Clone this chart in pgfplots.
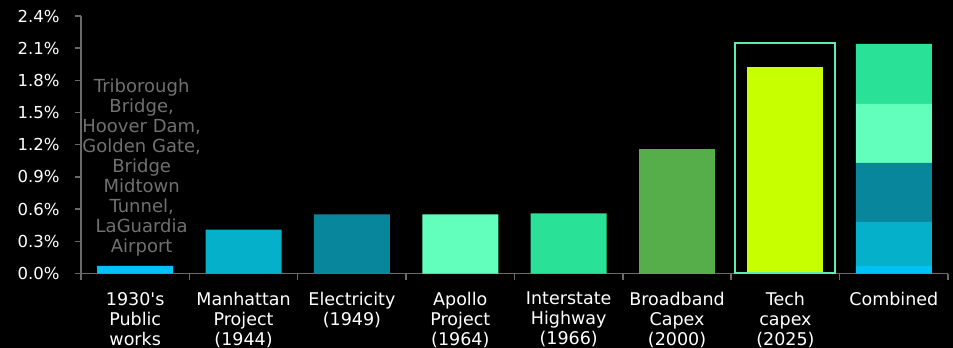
\documentclass[border=0pt]{standalone}
\usepackage{pgfplots}
\pgfplotsset{compat=1.18}
\usepackage{fontspec}
\setmainfont{DejaVu Sans}

\definecolor{cPub}{HTML}{00C2F5}
\definecolor{cMan}{HTML}{05B0CB}
\definecolor{cEle}{HTML}{08869B}
\definecolor{cApo}{HTML}{62FFBC}
\definecolor{cInt}{HTML}{2AE297}
\definecolor{cBro}{HTML}{56AE4B}
\definecolor{cTec}{HTML}{C8FF00}
\definecolor{cBox}{HTML}{5CECB0}
\definecolor{axgray}{HTML}{6A6A6A}
\definecolor{notegray}{HTML}{707070}

\pgfplotsset{
  base/.style={
    scale only axis, width=867bp, height=257.5bp,
    xmin=-0.5, xmax=7.5, ymin=0, ymax=2.4,
    at={(81bp,74.5bp)}, anchor=south west,
  }
}

\begin{document}
\begin{tikzpicture}
\fill[black] (0,0) rectangle (953bp,348bp);
\begin{axis}[base,
  ybar stacked, bar width=76bp,
  axis x line*=bottom, axis y line*=left,
  axis line style={axgray, line width=1.5bp},
  tick align=outside, major tick length=6bp,
  tick style={axgray, line width=1.5bp},
  /pgf/number format/assume math mode=true,
  ytick={0,0.3,0.6,0.9,1.2,1.5,1.8,2.1,2.4},
  yticklabel={\pgfmathprintnumber[fixed,fixed zerofill,precision=1]{\tick}\%},
  y tick label style={font=\fontsize{16.5bp}{18bp}\selectfont, text=white, xshift=-12bp},
  xtick={-0.5,0.5,1.5,2.5,3.5,4.5,5.5,6.5,7.5},
  x tick label as interval,
  xticklabels={1930\textquotesingle s\\Public\\works, Manhattan\\Project\\(1944), Electricity\\(1949), Apollo\\Project\\(1964), Interstate\\Highway\\(1966), Broadband\\Capex\\(2000), Tech\\capex\\(2025), Combined},
  x tick label style={font=\fontsize{17.5bp}{20bp}\selectfont, text=white, align=center, anchor=north, yshift=-9bp},
]
% 1930's public works
\addplot[fill=cPub, draw=none] coordinates {(0,0.07) (1,0) (2,0) (3,0) (4,0) (5,0) (6,0) (7,0.07)};
% Manhattan Project
\addplot[fill=cMan, draw=none] coordinates {(0,0) (1,0.41) (2,0) (3,0) (4,0) (5,0) (6,0) (7,0.41)};
% Electricity
\addplot[fill=cEle, draw=none] coordinates {(0,0) (1,0) (2,0.55) (3,0) (4,0) (5,0) (6,0) (7,0.55)};
% Apollo
\addplot[fill=cApo, draw=none] coordinates {(0,0) (1,0) (2,0) (3,0.55) (4,0) (5,0) (6,0) (7,0.55)};
% Interstate
\addplot[fill=cInt, draw=none] coordinates {(0,0) (1,0) (2,0) (3,0) (4,0.56) (5,0) (6,0) (7,0.56)};
% Broadband
\addplot[fill=cBro, draw=none] coordinates {(0,0) (1,0) (2,0) (3,0) (4,0) (5,1.16) (6,0) (7,0)};
% Tech capex
\addplot[fill=cTec, draw=none] coordinates {(0,0) (1,0) (2,0) (3,0) (4,0) (5,0) (6,1.92) (7,0)};

\node[align=center, text=notegray, font=\fontsize{18bp}{20bp}\selectfont, anchor=north, inner sep=0pt]
  at (axis cs:0.06,1.82) {Triborough\\Bridge,\\Hoover Dam,\\Golden Gate,\\Bridge\\Midtown\\Tunnel,\\LaGuardia\\Airport};
\end{axis}
\begin{axis}[base, hide axis, clip=false, ybar, bar width=100bp, bar shift=0pt]
\addplot[draw=cBox, line width=2bp, fill=none] coordinates {(6,2.15)};
\end{axis}
\pgfresetboundingbox
\path[use as bounding box] (0,0) rectangle (953bp,348bp);
\end{tikzpicture}
\end{document}
